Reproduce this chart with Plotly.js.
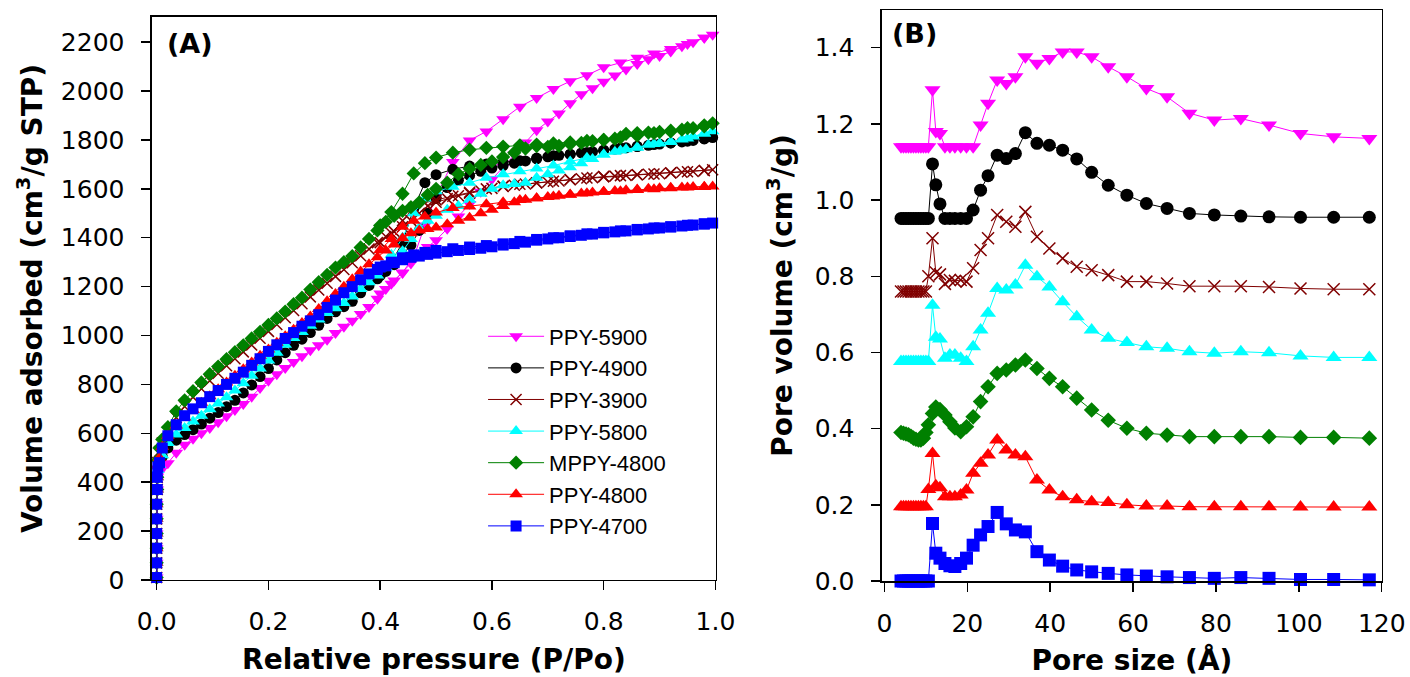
<!DOCTYPE html>
<html><head><meta charset="utf-8">
<script src="https://cdn.plot.ly/plotly-3.0.1.min.js"></script>
<style>html,body{margin:0;padding:0;background:#fff}#chart{width:1410px;height:677px}</style>
</head><body><div id="chart"></div>
<script>
// ---------- Panel A: N2 isotherms ----------
const seriesNames = ['PPY-5900','PPY-4900','PPY-3900','PPY-5800','MPPY-4800','PPY-4800','PPY-4700'];
const seriesColors = ['#FF00FF','#000000','#800000','#00FFFF','#008000','#FF0000','#0000FF'];
const seriesSymbols = ['triangle-down','circle','x-thin-open','triangle-up','diamond','triangle-up','square'];

const pressureAds = [0.000,0.000,0.000,0.000,0.000,0.000,0.001,0.001,0.002,0.005,0.01,0.02,
  0.035,0.05,0.065,0.08,0.095,0.11,0.125,0.14,0.155,0.17,0.185,0.20,0.215,0.23,0.245,0.26,
  0.275,0.29,0.305,0.32,0.335,0.35,0.365,0.38,0.395,0.41,0.425,0.44,0.455,0.47,0.485,0.50,
  0.52,0.54,0.56,0.58,0.60,0.62,0.64,0.66,0.68,0.70,0.72,0.74,0.76,0.78,0.80,0.82,0.84,0.86,
  0.88,0.90,0.92,0.94,0.96,0.98,0.995];
const pressureDes = [0.98,0.95,0.92,0.89,0.86,0.83,0.80,0.77,0.74,0.71,0.68,0.65,0.62,0.59,0.56,0.53,0.50,0.48,0.46,0.44,0.42,0.40];

const adsPPY5900 = [10,70,130,190,250,310,370,420,430,445,455,478,
  520,553,578,600,622,645,670,695,720,750,785,815,842,867,892,915,940,960,983,1010,1036,1060,1088,1117,1150,1190,1225,1256,1295,1335,1362,1390,
  1437,1487,1538,1588,1639,1689,1740,1790,1840,1875,1908,1950,1987,2012,2038,2064,2088,2111,2130,2143,2162,2183,2200,2218,2230];
const desPPY5900 = [2218,2193,2172,2154,2136,2117,2097,2065,2040,2008,1972,1936,1885,1835,1798,1710,1570,1450,1320,1258,1212,1172];

const adsPPY4900 = [10,70,130,190,250,310,370,420,460,480,505,540,
  572,595,615,638,662,685,709,735,765,798,832,865,900,930,960,985,1012,1042,1070,1097,1118,1140,1175,1205,1232,1262,1290,1330,1370,1430,1500,1560,
  1605,1635,1655,1672,1685,1695,1705,1714,1723,1731,1737,1742,1747,1752,1757,1763,1768,1773,1778,1783,1788,1792,1798,1804,1810];
const desPPY4900 = [1806,1795,1788,1781,1774,1767,1758,1749,1741,1735,1726,1715,1708,1702,1693,1680,1658,1625,1520,1380,1300,1245];

const adsPPY3900 = [10,70,130,190,250,310,370,420,480,525,560,605,
  665,710,748,782,815,846,876,905,933,961,989,1017,1045,1073,1102,1130,1158,1186,1214,1242,1270,1298,1326,1354,1380,1405,1425,1445,1470,1500,1530,1545,
  1560,1572,1582,1592,1602,1610,1615,1620,1624,1628,1632,1637,1641,1646,1650,1652,1655,1658,1660,1662,1665,1668,1671,1675,1678];
const desPPY3900 = [1675,1670,1666,1661,1658,1654,1650,1644,1638,1631,1625,1619,1611,1600,1586,1570,1555,1543,1520,1470,1418,1380];

const adsPPY5800 = [10,70,130,190,250,310,370,420,450,470,510,560,
  595,622,648,672,698,722,748,775,805,835,865,898,930,962,990,1014,1040,1066,1092,1112,1133,1160,1190,1218,1246,1278,1308,1345,1395,1440,1470,1490,
  1515,1530,1555,1580,1600,1615,1620,1625,1645,1660,1675,1688,1705,1722,1740,1752,1762,1770,1780,1786,1792,1802,1814,1826,1836];
const desPPY5800 = [1826,1806,1792,1783,1768,1757,1740,1727,1712,1695,1683,1672,1660,1645,1625,1609,1590,1560,1500,1400,1330,1275];

const adsMPPY4800 = [10,70,130,190,250,310,370,420,490,540,575,625,
  690,735,772,808,842,873,903,932,960,988,1015,1043,1070,1098,1128,1155,1188,1218,1248,1278,1300,1325,1360,1395,1430,1465,1490,1510,1525,1545,1575,1600,
  1625,1660,1682,1698,1712,1730,1748,1765,1775,1772,1776,1783,1788,1795,1800,1805,1825,1828,1830,1833,1835,1842,1848,1856,1868];
const desMPPY4800 = [1860,1848,1838,1828,1818,1810,1800,1796,1790,1786,1781,1778,1773,1768,1760,1748,1728,1705,1663,1580,1505,1450];

const adsPPY4800 = [10,70,130,190,250,310,370,420,470,500,545,590,
  632,665,695,725,752,780,808,835,862,890,917,943,970,997,1024,1051,1078,1108,1140,1170,1200,1230,1262,1292,1320,1348,1372,1398,1418,1430,1436,1442,
  1455,1470,1482,1500,1515,1530,1545,1555,1562,1567,1572,1577,1581,1585,1588,1591,1594,1597,1600,1602,1604,1606,1608,1609,1610];
const desPPY4800 = [1608,1605,1602,1598,1595,1590,1588,1582,1576,1569,1562,1554,1545,1537,1528,1522,1503,1487,1470,1445,1395,1350];

const adsPPY4700 = [10,70,130,190,250,310,370,420,463,480,540,590,
  635,672,700,725,750,775,800,825,850,878,905,935,962,988,1012,1038,1060,1085,1115,1145,1175,1200,1228,1252,1270,1285,1298,1310,1320,1325,1332,1337,
  1343,1348,1352,1357,1363,1370,1376,1382,1390,1395,1400,1405,1410,1415,1420,1424,1428,1432,1436,1440,1444,1448,1452,1456,1460];
const desPPY4700 = [1457,1451,1445,1440,1434,1428,1422,1416,1408,1400,1393,1385,1375,1368,1362,1355,1348,1340,1330,1318,1300,1280];

// ---------- Panel B: pore size distribution ----------
const poreSize = [4.0,4.6,5.2,5.8,6.4,7.0,7.6,8.2,8.8,9.4,10.0,10.6,
  11.6,12.4,13.4,14.6,15.8,17.0,18.4,19.8,21.4,23.2,25.0,27.2,29.4,31.6,34.0,36.8,
  39.8,43.0,46.4,50.0,54.0,58.5,63.2,68.2,73.6,79.6,86.0,92.8,100.4,108.4,117.0];

const pvPPY5900 = [1.14,1.14,1.14,1.14,1.14,1.14,1.14,1.14,1.14,1.14,1.14,1.14,
  1.29,1.18,1.175,1.14,1.14,1.14,1.14,1.14,1.14,1.197,1.254,1.315,1.306,1.324,1.376,1.359,
  1.372,1.389,1.389,1.376,1.35,1.324,1.293,1.271,1.228,1.21,1.214,1.197,1.175,1.166,1.162];
const pvPPY4900 = [0.952,0.952,0.952,0.952,0.952,0.952,0.952,0.952,0.952,0.952,0.952,0.952,
  1.095,1.04,0.99,0.952,0.952,0.952,0.952,0.952,0.974,1.026,1.064,1.118,1.109,1.122,1.177,1.149,
  1.144,1.131,1.108,1.073,1.039,1.013,0.991,0.978,0.965,0.961,0.958,0.956,0.955,0.955,0.955];
const pvPPY3900 = [0.76,0.76,0.76,0.76,0.76,0.76,0.76,0.76,0.76,0.76,0.76,0.80,
  0.90,0.81,0.805,0.78,0.79,0.788,0.79,0.786,0.821,0.869,0.90,0.961,0.943,0.93,0.969,0.904,
  0.873,0.847,0.825,0.816,0.803,0.786,0.786,0.781,0.774,0.774,0.774,0.772,0.768,0.766,0.766];
const pvPPY5800 = [0.576,0.576,0.576,0.576,0.576,0.576,0.576,0.576,0.576,0.576,0.576,0.576,
  0.724,0.64,0.635,0.585,0.593,0.593,0.585,0.576,0.615,0.659,0.703,0.768,0.764,0.777,0.829,0.799,
  0.772,0.733,0.694,0.659,0.637,0.626,0.615,0.611,0.602,0.598,0.602,0.599,0.591,0.587,0.587];
const pvMPPY4800 = [0.39,0.388,0.386,0.384,0.38,0.375,0.372,0.37,0.37,0.375,0.39,0.41,
  0.44,0.457,0.45,0.436,0.418,0.402,0.392,0.405,0.431,0.471,0.51,0.545,0.554,0.567,0.58,0.558,
  0.532,0.51,0.48,0.449,0.422,0.401,0.388,0.383,0.379,0.379,0.379,0.379,0.377,0.377,0.375];
const pvPPY4800 = [0.195,0.195,0.195,0.195,0.195,0.195,0.195,0.195,0.195,0.195,0.195,0.24,
  0.335,0.25,0.245,0.221,0.221,0.221,0.226,0.239,0.283,0.309,0.331,0.37,0.344,0.331,0.326,0.265,
  0.239,0.221,0.213,0.208,0.206,0.2,0.197,0.197,0.195,0.195,0.195,0.195,0.194,0.194,0.194];
const pvPPY4700 = [0,0,0,0,0,0,0,0,0,0,0,0,
  0.151,0.073,0.06,0.046,0.04,0.038,0.046,0.06,0.094,0.121,0.143,0.18,0.15,0.134,0.129,0.077,
  0.055,0.039,0.029,0.024,0.02,0.016,0.013,0.011,0.009,0.007,0.009,0.007,0.004,0.004,0.003];

const xTicksA = [0,0.2,0.4,0.6,0.8,1.0];
const yTicksA = [0,200,400,600,800,1000,1200,1400,1600,1800,2000,2200];
const xTicksB = [0,20,40,60,80,100,120];
const yTicksB = [0,0.2,0.4,0.6,0.8,1.0,1.2,1.4];

const adsList = [adsPPY5900,adsPPY4900,adsPPY3900,adsPPY5800,adsMPPY4800,adsPPY4800,adsPPY4700];
const desList = [desPPY5900,desPPY4900,desPPY3900,desPPY5800,desMPPY4800,desPPY4800,desPPY4700];
const pvList = [pvPPY5900,pvPPY4900,pvPPY3900,pvPPY5800,pvMPPY4800,pvPPY4800,pvPPY4700];

const sizeA = [12,11,11,12,11,12,11];
const sizeB = [14,13,12,14,12,14,13];

const traces = [];
seriesNames.forEach((name,i)=>{
  traces.push({
    type:'scatter', mode:'lines+markers', name:name, xaxis:'x', yaxis:'y',
    x: pressureAds.concat(pressureDes), y: adsList[i].concat(desList[i]),
    line:{color:seriesColors[i], width:1},
    marker:{symbol:seriesSymbols[i], color:seriesColors[i], size:sizeA[i],
      line:{color:seriesColors[i], width: i===2?1.5:0}},
    cliponaxis:false
  });
});
seriesNames.forEach((name,i)=>{
  traces.push({
    type:'scatter', mode:'lines+markers', name:name, xaxis:'x2', yaxis:'y2', showlegend:false,
    x: poreSize, y: pvList[i],
    line:{color:seriesColors[i], width:1},
    marker:{symbol:seriesSymbols[i], color:seriesColors[i], size:sizeB[i],
      line:{color:seriesColors[i], width: i===2?1.5:0}},
    cliponaxis:false
  });
});

const tickFont = {family:'DejaVu Sans', size:25, color:'#000'};
const titleFont = {family:'DejaVu Sans', size:28, color:'#000', weight:'bold'};
const axBase = {showgrid:false, zeroline:false, showline:true, mirror:true, linecolor:'#000', linewidth:1.5,
  ticks:'outside', ticklen:9, tickwidth:1.5, tickcolor:'#000', tickfont:tickFont};

const layout = {
  width:1410, height:677, margin:{l:0,r:0,t:0,b:0}, paper_bgcolor:'#fff', plot_bgcolor:'#fff',
  font:{family:'DejaVu Sans', color:'#000'},
  showlegend:true,
  legend:{x:0.3426, y:0.5340, xanchor:'left', yanchor:'top', bgcolor:'rgba(0,0,0,0)',
    font:{family:'Liberation Sans', size:22, color:'#000'}, itemwidth:56, tracegroupgap:0},
  xaxis: Object.assign({}, axBase, {domain:[0.1078,0.5078], range:[-0.0084,1.001], tickvals:xTicksA,
    tickformat:'.1f', ticklabelstandoff:10, anchor:'y',
    title:{text:'<b>Relative pressure (P/Po)</b>', font:titleFont, standoff:14}}),
  yaxis: Object.assign({}, axBase, {domain:[0.1433,0.9749], range:[0,2303], tickvals:yTicksA,
    ticklabelstandoff:12, anchor:'x',
    title:{text:'<b>Volume adsorbed (cm<sup>3</sup>/g STP)</b>', font:titleFont, standoff:10}}),
  xaxis2: Object.assign({}, axBase, {domain:[0.6255,0.9801], range:[-0.6,120.05], tickvals:xTicksB,
    ticklabelstandoff:10, anchor:'y2',
    title:{text:'<b>Pore size (Å)</b>', font:titleFont, standoff:16}}),
  yaxis2: Object.assign({}, axBase, {domain:[0.1418,0.9852], range:[0,1.499], tickvals:yTicksB,
    tickformat:'.1f', ticklabelstandoff:12, anchor:'x2',
    title:{text:'<b>Pore volume (cm<sup>3</sup>/g)</b>', font:titleFont, standoff:14}}),
  annotations:[
    {text:'<b>(A)</b>', xref:'paper', yref:'paper', x:165/1410, y:1-44/677, xanchor:'left', yanchor:'middle',
      showarrow:false, font:{family:'DejaVu Sans', size:27, color:'#000'}},
    {text:'<b>(B)</b>', xref:'paper', yref:'paper', x:890/1410, y:1-34/677, xanchor:'left', yanchor:'middle',
      showarrow:false, font:{family:'DejaVu Sans', size:27, color:'#000'}}
  ]
};

Plotly.newPlot('chart', traces, layout, {displayModeBar:false, staticPlot:true});
</script>
</body></html>
